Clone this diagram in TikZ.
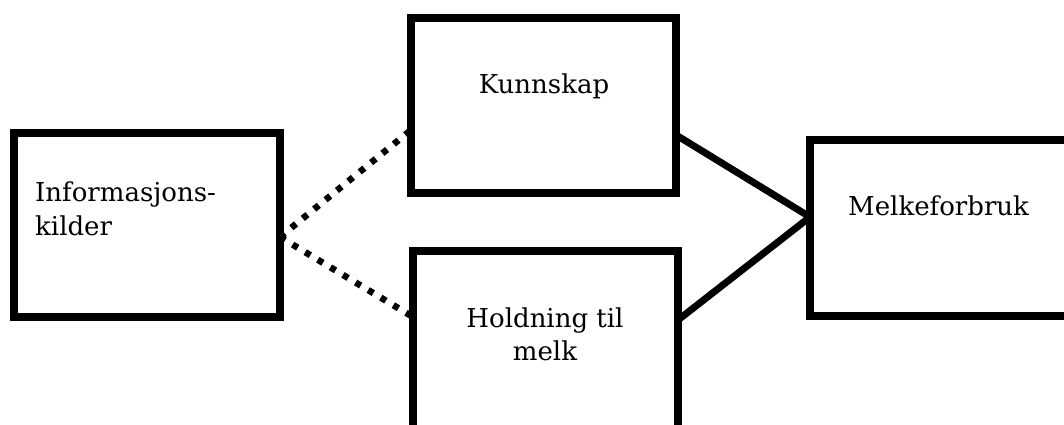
\documentclass[tikz,border=0pt]{standalone}
\usepackage{fontspec}
\setmainfont{DejaVu Serif}
\begin{document}
\begin{tikzpicture}[x=1pt,y=-1pt,
  box/.style={draw=black,line width=7.5pt,rectangle,inner sep=0pt,outer sep=0pt,fill=white},
  lbl/.style={font=\fontsize{26}{33}\selectfont,inner sep=0pt,anchor=base},
  solidcon/.style={line width=7pt,draw=black},
  dotcon/.style={line width=6.5pt,draw=black,dash pattern=on 6pt off 8.7pt}]
\useasboundingbox (0,0) rectangle (1064,425);
\node[box,minimum width=266pt,minimum height=184pt] (L) at (147,225) {};
\node[box,minimum width=265pt,minimum height=175pt] (K) at (543.5,105.5) {};
\node[box,minimum width=265pt,minimum height=180pt] (H) at (545.5,341) {};
\node[box,minimum width=265pt,minimum height=176pt] (M) at (942.5,228) {};
% connectors
\draw[dotcon] ([yshift=-12pt]L.east) -- ([yshift=-24.5pt]K.west);
\draw[dotcon] ([yshift=-12pt]L.east) -- ([yshift=24pt]H.west);
\draw[solidcon] ([yshift=-29.5pt]K.east) -- ([yshift=11pt]M.west);
\draw[solidcon] ([yshift=21pt]H.east) -- ([yshift=11pt]M.west);
% labels
\node[lbl,anchor=base west] (tL1) at (35,201) {Informasjons-};
\node[lbl,anchor=base west] (tL2) at (35,235) {kilder};
\node[lbl] (tK) at (544,94) {Kunnskap};
\node[lbl] (tH1) at (545,327) {Holdning til};
\node[lbl] (tH2) at (545,360) {melk};
\node[lbl,anchor=base west] (tM) at (848,215) {Melkeforbruk};
\end{tikzpicture}
\end{document}
